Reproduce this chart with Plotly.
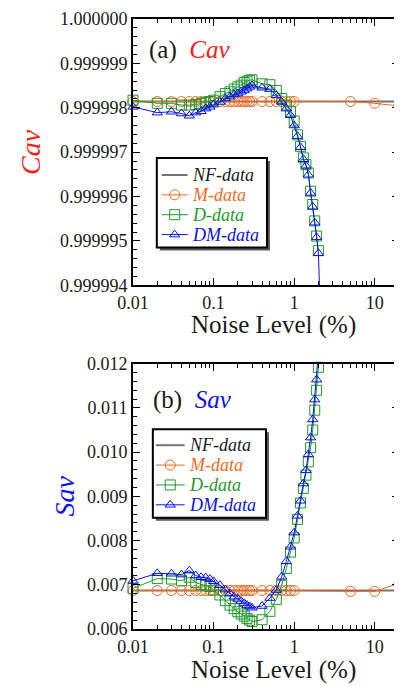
import plotly.graph_objects as go
from plotly.subplots import make_subplots

# ---------------- data ----------------
x_grid = [0.01, 0.02, 0.03, 0.04, 0.05, 0.06, 0.07, 0.08, 0.09, 0.1,
          0.12, 0.14, 0.16, 0.18, 0.2, 0.22, 0.24, 0.26, 0.28, 0.3,
          0.4, 0.5, 0.6, 0.7, 0.8, 0.9, 1.0, 1.1, 1.2, 1.3, 1.4, 1.5,
          1.6, 1.7, 1.8, 1.9, 2.0]
x_m = [0.01, 0.02, 0.03, 0.04, 0.05, 0.06, 0.07, 0.08, 0.09, 0.1,
       0.12, 0.14, 0.16, 0.18, 0.2, 0.22, 0.24, 0.26, 0.28, 0.3,
       0.4, 0.5, 0.6, 0.7, 0.8, 0.9, 1.0, 5, 10, 20]
x_nf = [0.01, 20]
x_dm_top = x_grid + [2.1]

cav_nf = [0.99999814, 0.99999814]
cav_m = [0.99999814] * 27 + [0.99999814, 0.99999810, 0.99999804]
cav_d = [0.99999817, 0.99999810, 0.99999810, 0.99999806, 0.99999806, 0.99999807, 0.99999810,
         0.99999812, 0.99999814, 0.99999817, 0.99999825, 0.99999832, 0.99999836, 0.99999842,
         0.99999847, 0.99999851, 0.99999857, 0.99999860, 0.99999862, 0.99999863, 0.99999854,
         0.99999852, 0.99999839, 0.99999821, 0.99999806, 0.99999791, 0.99999770, 0.99999739,
         0.99999713, 0.99999687, 0.99999672, 0.99999653, 0.99999612, 0.99999582, 0.99999545,
         0.99999511, 0.99999478]
cav_dm = [0.99999802, 0.99999789, 0.99999791, 0.99999787, 0.99999782, 0.99999789, 0.99999792,
          0.99999798, 0.99999802, 0.99999807, 0.99999813, 0.99999821, 0.99999825, 0.99999830,
          0.99999832, 0.99999836, 0.99999839, 0.99999843, 0.99999847, 0.99999850, 0.99999845,
          0.99999842, 0.99999828, 0.99999813, 0.99999798, 0.99999783, 0.99999760, 0.99999736,
          0.99999711, 0.99999684, 0.99999669, 0.99999649, 0.99999608, 0.99999577, 0.99999541,
          0.99999508, 0.99999472, 0.99999350]

sav_nf = [0.00687, 0.00687]
sav_m = [0.00687] * 27 + [0.00685, 0.00685, 0.00703]
sav_d = [0.00692, 0.00714, 0.00713, 0.00709, 0.00717, 0.00705, 0.00701, 0.00699, 0.00696, 0.00688,
         0.00677, 0.00664, 0.00654, 0.00646, 0.00639, 0.00634, 0.00629, 0.00624, 0.00620, 0.00617,
         0.00621, 0.00640, 0.00667, 0.00699, 0.00737, 0.00774, 0.00806, 0.00848, 0.00885, 0.00918,
         0.00948, 0.00978, 0.01010, 0.01050, 0.01095, 0.01140, 0.01192]
sav_dm = [0.00709, 0.00726, 0.00725, 0.00723, 0.00732, 0.00721, 0.00717, 0.00716, 0.00713, 0.00708,
          0.00699, 0.00689, 0.00680, 0.00673, 0.00668, 0.00663, 0.00658, 0.00654, 0.00651, 0.00648,
          0.00652, 0.00670, 0.00688, 0.00718, 0.00753, 0.00786, 0.00818, 0.00856, 0.00890, 0.00929,
          0.00959, 0.00995, 0.01033, 0.01074, 0.01119, 0.01164, 0.01225]

cav_range = [0.999994, 1.000000]
sav_range = [0.006, 0.012]
x_range_log = [-2, 1.30103]
cav_ticks = [0.999994, 0.999995, 0.999996, 0.999997, 0.999998, 0.999999, 1.000000]
sav_ticks = [0.006, 0.007, 0.008, 0.009, 0.010, 0.011, 0.012]
x_ticks = [0.01, 0.1, 1, 10]
x_ticktext = ["0.01", "0.1", "1", "10"]

series_names = ["NF-data", "M-data", "D-data", "DM-data"]

# ---------------- style / geometry ----------------
FONT = "Liberation Serif"
C_TXT = "#1a1a1a"
C_NF = "#737373"
C_M = "#f26a1e"
C_D = "#1f9a2a"
C_DM = "#0a12e6"
C_RED = "#ff1a1a"
C_BLUE = "#1010ee"

OFF = 8                      # page body margin
W, H = 402 - OFF, 686 - OFF  # figure size
PL, PR, PT, PB = 133, 401, 15, 629   # plot frame in window pixels
ML, MR, MT, MB = PL - OFF, W - (PR - OFF), PT - OFF, H - (PB - OFF)
ph = H - MT - MB
TOP_Y0, TOP_Y1 = 15, 283
BOT_Y0, BOT_Y1 = 362, 629
top_dom = [(PB - TOP_Y1) / ph, 1.0]
bot_dom = [0.0, (PB - BOT_Y0) / ph]


def px_x(wx):
    return (wx - PL) / (PR - PL)


def px_y(wy):
    return (PB - wy) / (PB - PT)


def data_x(wx):
    f = (wx - PL) / (PR - PL)
    return 10 ** (x_range_log[0] + f * (x_range_log[1] - x_range_log[0]))


def data_y(wy, rng, y0, y1):
    f = (y1 - wy) / (y1 - y0)
    return rng[0] + f * (rng[1] - rng[0])


fig = make_subplots(rows=2, cols=1)


def vis(xs, ys, rng):
    xv, yv = [], []
    for a, b in zip(xs, ys):
        if rng[0] <= b <= rng[1]:
            xv.append(a)
            yv.append(b)
    return xv, yv


def add_panel(row, nf, m, d, dm, x_dm, rng):
    fig.add_trace(go.Scatter(x=x_nf, y=nf, mode="lines", line=dict(color=C_NF, width=2),
                             name=series_names[0]), row=row, col=1)
    fig.add_trace(go.Scatter(x=x_m, y=m, mode="lines+markers", line=dict(color=C_M, width=1),
                             marker=dict(symbol="circle-open", size=10, color=C_M, line=dict(width=1)),
                             cliponaxis=False, name=series_names[1]), row=row, col=1)
    fig.add_trace(go.Scatter(x=x_grid, y=d, mode="lines", line=dict(color=C_D, width=1),
                             hoverinfo="skip"), row=row, col=1)
    xv, yv = vis(x_grid, d, rng)
    fig.add_trace(go.Scatter(x=xv, y=yv, mode="markers",
                             marker=dict(symbol="square-open", size=10, color=C_D, line=dict(width=1)),
                             cliponaxis=False, name=series_names[2]), row=row, col=1)
    fig.add_trace(go.Scatter(x=x_dm, y=dm, mode="lines", line=dict(color=C_DM, width=1),
                             hoverinfo="skip"), row=row, col=1)
    xv, yv = vis(x_dm, dm, rng)
    fig.add_trace(go.Scatter(x=xv, y=yv, mode="markers",
                             marker=dict(symbol="triangle-up-open", size=9, color=C_DM, line=dict(width=1)),
                             cliponaxis=False, name=series_names[3]), row=row, col=1)


add_panel(1, cav_nf, cav_m, cav_d, cav_dm, x_dm_top, cav_range)
add_panel(2, sav_nf, sav_m, sav_d, sav_dm, x_grid, sav_range)

axis_common = dict(showline=True, linecolor="black", linewidth=2, mirror="allticks",
                   ticks="inside", ticklen=7, tickwidth=1, tickcolor="black",
                   showgrid=False, zeroline=False,
                   tickfont=dict(family=FONT, size=18, color=C_TXT))

for i in (1, 2):
    fig.update_xaxes(type="log", range=x_range_log, tickvals=x_ticks, ticktext=x_ticktext,
                     minor=dict(ticks="inside", ticklen=4, tickcolor="black", dtick="D1", showgrid=False),
                     **axis_common, row=i, col=1)

fig.update_yaxes(range=cav_range, tickvals=cav_ticks, tickformat=".6f", domain=top_dom,
                 minor=dict(ticks="inside", ticklen=4, tickcolor="black", dtick=2e-7, showgrid=False),
                 **axis_common, row=1, col=1)
fig.update_yaxes(range=sav_range, tickvals=sav_ticks, tickformat=".3f", domain=bot_dom,
                 minor=dict(ticks="inside", ticklen=4, tickcolor="black", dtick=0.0002, showgrid=False),
                 **axis_common, row=2, col=1)

# ---------------- hand-built legends ----------------
ann = []
shapes = []
legend_specs = [
    # row, y-range, panel y0/y1, box x0, y0, x1, y1, line x0, x1, text x, first row y, step
    (1, cav_range, TOP_Y0, TOP_Y1, 157, 155, 268, 245, 162, 188, 190, 172, 20),
    (2, sav_range, BOT_Y0, BOT_Y1, 153, 428, 267, 517, 156, 185, 187, 444, 20),
]
leg_cols = [C_NF, C_M, C_D, C_DM]
leg_txt_cols = [C_TXT, C_M, C_D, C_DM]
leg_syms = [None, "circle-open", "square-open", "triangle-up-open"]
leg_sizes = [0, 10, 10, 9]

for (row, rng, py0, py1, bx0, by0, bx1, by1, lx0, lx1, tx, ry0, step) in legend_specs:
    shapes.append(dict(type="rect", xref="paper", yref="paper", layer="below",
                       x0=px_x(bx0 + 3), x1=px_x(bx1 + 3), y0=px_y(by1 + 3), y1=px_y(by0 + 3),
                       fillcolor="#5a5a5a", line=dict(width=0)))
    shapes.append(dict(type="rect", xref="paper", yref="paper", layer="below",
                       x0=px_x(bx0), x1=px_x(bx1), y0=px_y(by1), y1=px_y(by0),
                       fillcolor="white", line=dict(color="black", width=2)))
    for k in range(4):
        yy = ry0 + k * step
        w = 2 if k == 0 else 1
        shapes.append(dict(type="line", xref="paper", yref="paper", layer="below",
                           x0=px_x(lx0), x1=px_x(lx1), y0=px_y(yy), y1=px_y(yy),
                           line=dict(color=leg_cols[k], width=w)))
        ann.append(dict(text="<i>%s</i>" % series_names[k], x=px_x(tx), y=px_y(yy),
                        xref="paper", yref="paper", xanchor="left", yanchor="middle",
                        showarrow=False, font=dict(family=FONT, size=18, color=leg_txt_cols[k])))
        if leg_syms[k]:
            fig.add_trace(go.Scatter(x=[data_x((lx0 + lx1) / 2)], y=[data_y(yy, rng, py0, py1)],
                                     mode="markers", cliponaxis=False, hoverinfo="skip",
                                     marker=dict(symbol=leg_syms[k], size=leg_sizes[k],
                                                 color=leg_cols[k], line=dict(width=1))),
                          row=row, col=1)

ann.append(dict(text="(a)  <i><span style='color:%s'>Cav</span></i>" % C_RED, x=px_x(147), y=px_y(46),
                xref="paper", yref="paper", xanchor="left", yanchor="middle", showarrow=False,
                font=dict(family=FONT, size=25, color=C_TXT)))
ann.append(dict(text="(b)  <i><span style='color:%s'>Sav</span></i>" % C_BLUE, x=px_x(151), y=px_y(399),
                xref="paper", yref="paper", xanchor="left", yanchor="middle", showarrow=False,
                font=dict(family=FONT, size=25, color=C_TXT)))
ann.append(dict(text="<i>Cav</i>", x=px_x(29), y=px_y(149), xref="paper", yref="paper",
                xanchor="center", yanchor="middle", textangle=-90, showarrow=False,
                font=dict(family=FONT, size=28, color=C_RED)))
ann.append(dict(text="<i>Sav</i>", x=px_x(64), y=px_y(495), xref="paper", yref="paper",
                xanchor="center", yanchor="middle", textangle=-90, showarrow=False,
                font=dict(family=FONT, size=28, color=C_BLUE)))
for yc in (323, 670):
    ann.append(dict(text="Noise Level (%)", x=px_x(275), y=px_y(yc), xref="paper", yref="paper",
                    xanchor="center", yanchor="middle", showarrow=False,
                    font=dict(family=FONT, size=25, color=C_TXT)))

fig.update_layout(width=W, height=H, margin=dict(l=ML, r=MR, t=MT, b=MB),
                  paper_bgcolor="white", plot_bgcolor="white", showlegend=False,
                  annotations=ann, shapes=shapes,
                  font=dict(family=FONT, size=18, color=C_TXT))

fig.write_html("out.html")
